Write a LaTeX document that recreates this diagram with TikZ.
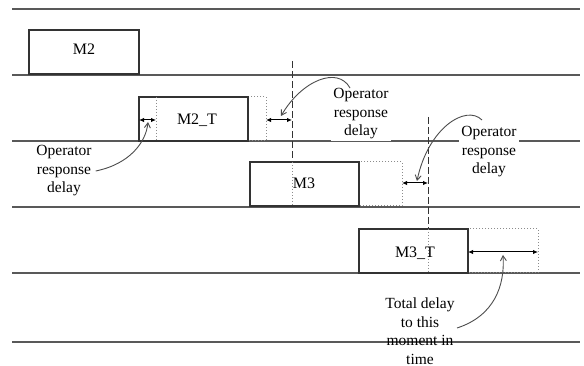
\documentclass[tikz,border=0pt]{standalone}
\usepackage{fontspec}
\setmainfont{Liberation Serif}
\usetikzlibrary{arrows.meta}
\begin{document}
\begin{tikzpicture}[x=1pt,y=-1pt,
 lane/.style={draw=black!65, line width=1.3pt},
 box/.style={draw=black!80, line width=1.3pt},
 ext/.style={draw=black!45, dotted, line width=1pt},
 guide/.style={draw=black!80, dash pattern=on 7pt off 3pt, line width=1pt},
 dim/.style={{Latex[length=5pt,width=4.5pt]}-{Latex[length=5pt,width=4.5pt]}, line width=1pt},
 note/.style={align=center, font=\fontsize{15.5}{18.5}\selectfont, fill=white, inner sep=2pt},
 pointer/.style={-{Straight Barb[length=5pt,width=6pt]}, draw=black!70, line width=0.9pt},
 lbl/.style={font=\fontsize{16}{19}\selectfont, anchor=base, inner sep=0pt}]
\useasboundingbox (0,0) rectangle (584,366);

% lanes
\foreach \y in {9,75,141,207,273,342}
  \draw[lane] (12,\y) -- (580,\y);

% dotted extensions
\draw[ext] (248,97) rectangle (266,141);
\draw[ext] (359,162) rectangle (402,206);
\draw[ext] (468,229) rectangle (538,273);

% boxes
\draw[box] (29,30) rectangle (139,74);
\draw[box] (139,97) rectangle (248,141);
\draw[box] (250,162) rectangle (359,206);
\draw[box] (359,229) rectangle (468,273);

% dotted inside boxes
\draw[ext] (156,97) -- (156,141);
\draw[ext] (292,162) -- (292,206);
\draw[ext] (428,229) -- (428,273);

% dashed guides
\draw[guide] (292,61) -- (292,162);
\draw[guide] (428,117) -- (428,229);

% box labels
\node[lbl] (m2) at (84,55) {M2};
\node[lbl] (m2t) at (197,125) {M2\_T};
\node[lbl] (m3) at (304,189) {M3};
\node[lbl] (m3t) at (415,258) {M3\_T};

% dimension arrows
\coordinate (d1a) at (139,120); \coordinate (d1b) at (156,120);
\coordinate (d2a) at (266,120); \coordinate (d2b) at (292,120);
\coordinate (d3a) at (402,183); \coordinate (d3b) at (428,183);
\coordinate (d4a) at (468,252); \coordinate (d4b) at (538,252);
\draw[dim] (d1a) -- (d1b);
\draw[dim] (d2a) -- (d2b);
\draw[dim] (d3a) -- (d3b);
\draw[dim] (d4a) -- (d4b);

% notes
\node[note] (n1) at (64,171) {Operator\\response\\delay};
\node[note] (n2) at (361,114) {Operator\\response\\delay};
\node[note] (n3) at (489,152) {Operator\\response\\delay};
\node[note, fill=none] (n4) at (420,331) {Total delay\\to this\\moment in\\time};

% pointers
\coordinate (p1) at (148,122);
\coordinate (p2) at (281,116);
\coordinate (p3) at (417,181);
\coordinate (p4) at (503,255);
\draw[pointer] ([xshift=2pt]n1.east) .. controls (130,164) and (146,142) .. (p1);
\draw[pointer] (350,88) .. controls (338,66) and (302,80) .. (p2);
\draw[pointer] (482,120) .. controls (466,104) and (428,128) .. (p3);
\draw[pointer] (457,328) .. controls (494,316) and (505,286) .. (p4);
\end{tikzpicture}
\end{document}
